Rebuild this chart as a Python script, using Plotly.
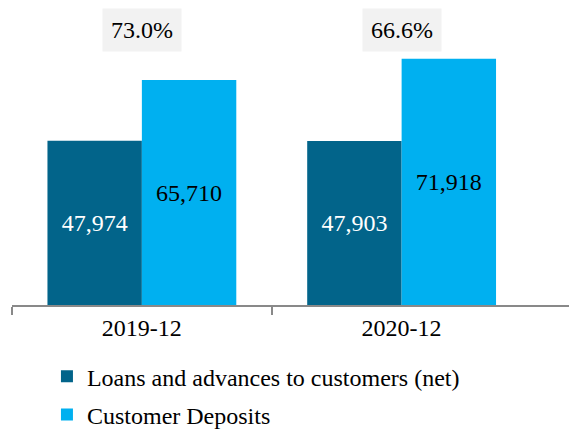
import plotly.graph_objects as go

categories = ["2019-12", "2020-12"]
loans = [47974, 47903]
deposits = [65710, 71918]
ratio_labels = ["73.0%", "66.6%"]

BASE_FONT = "Liberation Serif"
FONT = "Times New Roman"
x_idx = list(range(len(categories)))

fig = go.Figure()
fig.add_trace(go.Bar(
    x=x_idx, y=loans, name="Loans and advances to customers (net)",
    marker=dict(color="#02648A", line=dict(width=0)),
    text=[f"{v:,}" for v in loans], textposition="inside",
    insidetextanchor="middle", textangle=0,
    textfont=dict(color="white", size=24, family=FONT),
    legendgroup="a",
))
fig.add_trace(go.Bar(
    x=x_idx, y=deposits, name="Customer Deposits",
    marker=dict(color="#00B0F0", line=dict(width=0)),
    text=[f"{v:,}" for v in deposits], textposition="inside",
    insidetextanchor="middle", textangle=0,
    textfont=dict(color="black", size=24, family=FONT),
    legendgroup="b",
))

for i, lab in enumerate(ratio_labels):
    fig.add_annotation(
        x=x_idx[i], y=0.926, xref="x", yref="paper", text=lab,
        showarrow=False, bgcolor="#F2F2F2", borderpad=8,
        font=dict(size=24, family=FONT, color="black"),
        xanchor="center", yanchor="middle",
    )

fig.update_layout(
    width=577, height=430,
    margin=dict(l=4, r=0, t=0, b=133),
    paper_bgcolor="white", plot_bgcolor="white",
    barmode="group", bargap=0.273, bargroupgap=0,
    font=dict(family=BASE_FONT, size=24, color="black"),
    uniformtext=dict(minsize=10, mode="show"),
    showlegend=True,
    legend=dict(
        orientation="v", x=0.061, xanchor="left",
        yref="container", y=0.195, yanchor="top",
        traceorder="grouped", tracegroupgap=4,
        font=dict(size=24, family=FONT, color="black"),
        itemclick=False, bgcolor="rgba(0,0,0,0)",
    ),
)
fig.update_xaxes(
    range=[-0.5, 1.706], tickvals=x_idx, ticktext=categories,
    ticks="", showgrid=False, zeroline=False,
    showline=True, linecolor="#898989", linewidth=1.5,
    tickfont=dict(size=24, family=FONT, color="black"),
    minor=dict(tickvals=[-0.5, 0.5], ticks="outside", ticklen=8,
               tickcolor="#898989", tickwidth=1.5, showgrid=False),
)
fig.update_yaxes(range=[0, 86740], visible=False, showgrid=False, zeroline=False)

fig.write_html("out.html")
